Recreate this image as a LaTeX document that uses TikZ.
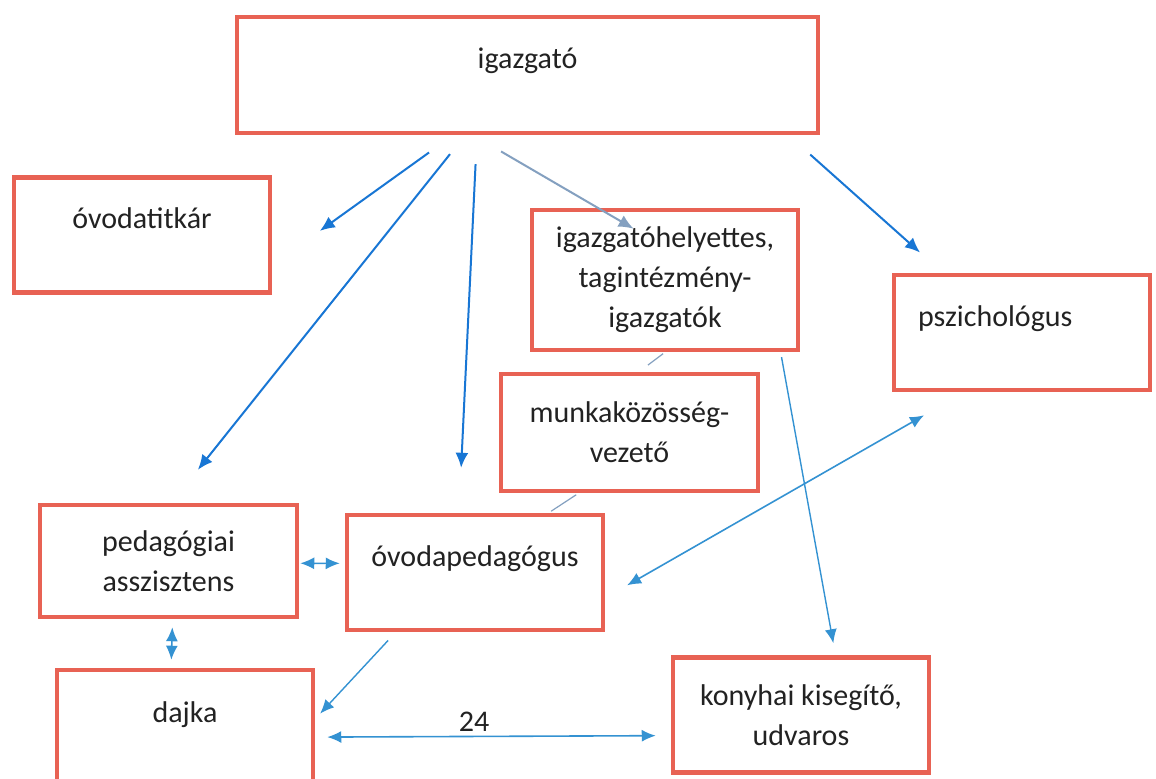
\documentclass[tikz,border=0pt]{standalone}
\usepackage{fontspec}
\setmainfont{Carlito}
\usetikzlibrary{arrows.meta}
\definecolor{boxred}{RGB}{232,98,84}
\definecolor{linkblue}{RGB}{24,118,212}
\definecolor{softblue}{RGB}{52,146,210}
\definecolor{greyblue}{RGB}{132,160,192}
\definecolor{inkgrey}{RGB}{34,34,34}

\begin{document}
\begin{tikzpicture}[x=0.5pt, y=-0.5pt, font=\fontsize{15}{20}\selectfont,
    box/.style={rectangle, draw=boxred, line width=2.25pt, text=inkgrey, align=center,
      inner sep=0pt, minimum width=128pt, minimum height=57.5pt},
    lift/.style={text height=11pt, text depth=17pt},
    arr/.style={draw=linkblue, line width=1pt, -{Latex[length=7.5pt,width=6.5pt]}},
    thinarr/.style={draw=softblue, line width=0.7pt, -{Latex[length=7pt,width=6pt]}},
    twoarr/.style={draw=softblue, line width=0.8pt, {Latex[length=7pt,width=6pt]}-{Latex[length=7pt,width=6pt]}},
    link/.style={draw=greyblue, line width=0.6pt}]
      \path [use as bounding box, fill=white] (0,0) rectangle (1156,779);
      %nodes
      \node[box, lift, minimum width=290.5pt, minimum height=58pt] (igazgato) at (527.5,75) {igazgató};
      \node[box, lift] (titkar) at (142,235) {óvodatitkár};
      \node[box, minimum width=133pt, minimum height=70pt] (helyettes) at (665,280) {igazgatóhelyettes,\\tagintézmény-\\igazgatók};
      \node[box, lift, align=left, text width=104pt, inner xsep=12pt] (pszich) at (1022,332.5) {pszichológus};
      \node[box, minimum width=128.5pt, minimum height=58.5pt] (munkakoz) at (629.5,432.5) {munkaközösség-\\vezető};
      \node[box, minimum width=128.5pt, minimum height=56pt] (asszisztens) at (168.5,561) {pedagógiai\\asszisztens};
      \node[box, lift] (ovodaped) at (475,572.5) {óvodapedagógus};
      \node[box, lift, minimum height=58pt] (dajka) at (185,728) {dajka};
      \node[box] (konyhai) at (801,715) {konyhai kisegítő,\\udvaros};
      %edges
      \path [arr, shorten <=14.8pt, shorten >=29.3pt] (igazgato.-141) -- (titkar.-13);
      \path [arr, shorten <=12.1pt, shorten >=21.1pt] (igazgato.-136) -- (asszisztens.87);
      \path [arr, shorten <=14.5pt, shorten >=22.5pt] (igazgato.-130) -- (ovodaped.105);
      \path [arr, draw=greyblue, shorten <=16.1pt, shorten >=-20.8pt] (igazgato.-132) -- (helyettes.133);
      \path [arr, shorten <=14.5pt, shorten >=15.2pt] (igazgato.-13) -- (pszich.143);
      \path [thinarr, shorten <=2.5pt, shorten >=6.1pt] (helyettes.-32) -- (konyhai.60);
      \path [twoarr, shorten <=12.6pt, shorten >=23.2pt] (ovodaped.-11) -- (pszich.-134);
      \path [twoarr, shorten <=0.5pt, shorten >=2.5pt] (asszisztens.-1) -- (ovodaped.176);
      \path [twoarr, shorten <=4pt, shorten >=4pt] (asszisztens.-86) -- (dajka.103);
      \path [thinarr, shorten <=5.6pt, shorten >=3.6pt] (ovodaped.-143) -- (dajka.4);
      \path [twoarr, shorten <=6pt, shorten >=7.5pt] (dajka.-4) -- node[above, pos=0.447, inner sep=2pt, text=inkgrey]{24} (konyhai.-171);
      \path [link, shorten <=1.2pt, shorten >=5.5pt] (helyettes.-90) -- (munkakoz.81);
      \path [link, shorten <=1.4pt, shorten >=1.4pt] (munkakoz.-130) -- (ovodaped.39);
    \end{tikzpicture}
\end{document}
